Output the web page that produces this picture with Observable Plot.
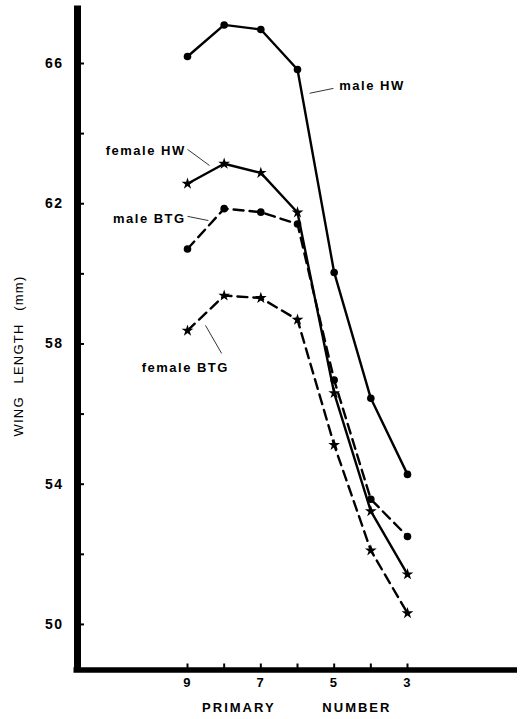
<!DOCTYPE html>
<html>
<head>
<meta charset="utf-8">
<script src="https://cdn.jsdelivr.net/npm/d3@7"></script>
<script src="https://cdn.jsdelivr.net/npm/@observablehq/plot@0.6"></script>
<style>
  html, body { margin: 0; padding: 0; background: #fff; }
  #chart svg text { font-family: "Liberation Sans", Arial, sans-serif; }
</style>
</head>
<body>
<div id="chart"></div>
<script>
// Primary number (x) and wing length in mm (y)
const primaries = [9, 8, 7, 6, 5, 4, 3];
const maleHW    = [66.2, 67.1, 66.97, 65.83, 60.04, 56.45, 54.28];
const femaleHW  = [62.57, 63.14, 62.88, 61.75, 56.6, 53.23, 51.43];
const maleBTG   = [60.71, 61.86, 61.76, 61.42, 56.97, 53.57, 52.51];
const femaleBTG = [58.38, 59.38, 59.31, 58.69, 55.12, 52.11, 50.32];

const seriesNames = ["male HW", "female HW", "male BTG", "female BTG"];
const seriesValues = [maleHW, femaleHW, maleBTG, femaleBTG];
const seriesSymbol = ["circle", "star", "circle", "star"];
const seriesDash = [null, null, "10,6", "10,6"];

// axis ticks
const yTicks = [50, 52, 54, 56, 58, 60, 62, 64, 66];
const yTickLabels = [50, 54, 58, 62, 66];
const xTicks = [9, 8, 7, 6, 5, 4, 3];
const xTickLabels = [9, 7, 5, 3];

// annotation labels (in data units) and their leader lines
const labelText = ["male HW", "female HW", "male BTG", "female BTG"];
const labelX = [4.86, 9.05, 9.05, 10.25];
const labelY = [65.35, 63.52, 61.58, 57.33];
const labelAnchor = ["start", "end", "end", "start"];
const leaderX1 = [5.67, 9.0, 9.0, 8.51];
const leaderY1 = [65.15, 63.55, 61.64, 58.53];
const leaderX2 = [5.02, 8.40, 8.43, 8.07];
const leaderY2 = [65.29, 63.09, 61.52, 57.73];

const xTitleWords = ["PRIMARY", "NUMBER"];
const xTitleX = [7.6, 4.38];
const yTitle = "WING LENGTH (mm)";

const rows = [];
seriesNames.forEach((s, i) => {
  primaries.forEach((p, j) => rows.push({series: s, primary: p, length: seriesValues[i][j], symbol: seriesSymbol[i]}));
});
const labels = labelText.map((t, i) => ({text: t, x: labelX[i], y: labelY[i], anchor: labelAnchor[i]}));
const leaders = labelText.map((t, i) => ({x1: leaderX1[i], y1: leaderY1[i], x2: leaderX2[i], y2: leaderY2[i]}));

const marks = [];
seriesNames.forEach((s, i) => {
  marks.push(Plot.line(rows.filter(d => d.series === s), {
    x: "primary", y: "length", stroke: "black", strokeWidth: 2.4,
    strokeDasharray: seriesDash[i]
  }));
});
seriesNames.forEach((s, i) => {
  const isStar = seriesSymbol[i] === "star";
  marks.push(Plot.dot(rows.filter(d => d.series === s), {
    x: "primary", y: "length", fill: "black", stroke: "none",
    symbol: seriesSymbol[i], r: isStar ? 3.7 : 3.8
  }));
});

const chart = Plot.plot({
  width: 522,
  height: 719,
  marginLeft: 77,
  marginRight: 5,
  marginTop: 5.5,
  marginBottom: 49.5,
  style: {background: "white", color: "black", fontFamily: "Liberation Sans, Arial, sans-serif"},
  x: {domain: [12, 0]},
  y: {domain: [48.7, 67.64]},
  marks: [
    Plot.axisY({ticks: yTicks, tickSize: -7, tickFormat: () => "", strokeWidth: 2, label: null}),
    Plot.axisY({ticks: yTickLabels, tickSize: 0, tickPadding: 14, fontSize: 14, label: null}),
    Plot.axisX({ticks: xTicks, tickSize: -6, tickFormat: () => "", strokeWidth: 2, label: null}),
    Plot.axisX({ticks: xTickLabels, tickSize: 0, tickPadding: 8, fontSize: 13, label: null}),
    Plot.ruleX([12], {stroke: "black", strokeWidth: 7}),
    Plot.ruleY([48.7], {stroke: "black", strokeWidth: 5.5, insetLeft: -3.5}),
    ...marks,
    Plot.link(leaders, {x1: "x1", y1: "y1", x2: "x2", y2: "y2", stroke: "black", strokeWidth: 0.8}),
    Plot.text(labels.filter(d => d.anchor === "start"), {x: "x", y: "y", text: "text", textAnchor: "start", fontSize: 13, fill: "black"}),
    Plot.text(labels.filter(d => d.anchor === "end"), {x: "x", y: "y", text: "text", textAnchor: "end", fontSize: 13, fill: "black"}),
    Plot.text(xTitleWords, {x: (d, i) => xTitleX[i], frameAnchor: "bottom", dy: 41.5, text: d => d, fontSize: 13, fill: "black"}),
    Plot.text([yTitle], {frameAnchor: "left", textAnchor: "middle", rotate: -90, dx: -59, dy: 18, text: d => d, fontSize: 13, fill: "black"})
  ]
});
document.getElementById("chart").appendChild(chart);
const texts = d3.select(chart).selectAll("text");
texts.style("font-weight", "bold").style("letter-spacing", "1.5px");
// axis titles: wider tracking
texts.filter(function() { return xTitleWords.includes(this.textContent); })
  .style("letter-spacing", "2px");
texts.filter(function() { return this.textContent === yTitle; })
  .style("font-weight", "normal").style("letter-spacing", "1.2px").style("word-spacing", "8px");
</script>
</body>
</html>
